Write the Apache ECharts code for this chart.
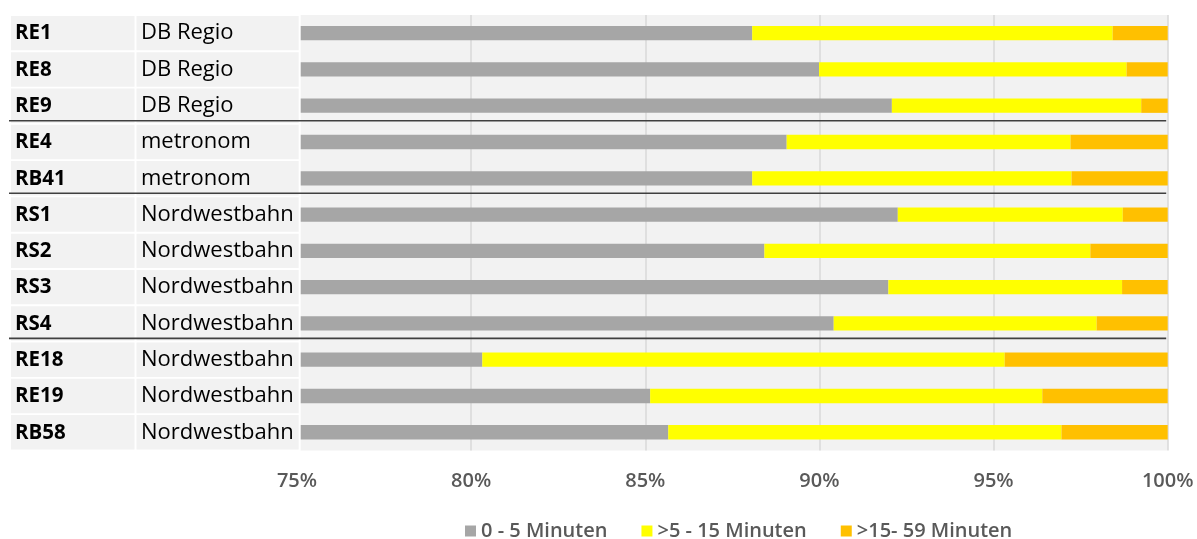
<!DOCTYPE html>
<html>
<head>
<meta charset="utf-8">
<script src="https://cdn.jsdelivr.net/npm/echarts@6/dist/echarts.min.js"></script>
<style>
html,body{margin:0;padding:0;background:#fff;}
#chart{width:1197px;height:539px;}
</style>
</head>
<body>
<div id="chart"></div>
<script>
// ---- data ----
var routes = ['RE1','RE8','RE9','RE4','RB41','RS1','RS2','RS3','RS4','RE18','RE19','RB58'];
var operators = ['DB Regio','DB Regio','DB Regio','metronom','metronom','Nordwestbahn','Nordwestbahn','Nordwestbahn','Nordwestbahn','Nordwestbahn','Nordwestbahn','Nordwestbahn'];
var seriesNames = ['0 - 5 Minuten', '>5 - 15 Minuten', '>15- 59 Minuten'];
var onTime  = [88.07, 89.99, 92.08, 89.06, 88.07, 92.25, 88.42, 91.98, 90.41, 80.32, 85.14, 85.66];
var minor   = [10.35,  8.83,  7.16,  8.15,  9.17,  6.46,  9.36,  6.71,  7.55, 15.00, 11.26, 11.29];
var major   = [ 1.58,  1.18,  0.76,  2.79,  2.76,  1.29,  2.22,  1.31,  2.04,  4.68,  3.60,  3.05];
var groupBreaksAfter = ['RE9','RB41','RS4'];
var xTicks = {min: 75, max: 100, step: 5};

// ---- chart ----
var chart = echarts.init(document.getElementById('chart'), null, {renderer: 'canvas'});
var FONT = '"Open Sans", "Noto Sans", sans-serif';
var gridLeft = 297, gridTop = 15, gridWidth = 870.7, gridHeight = 435.4;

var option = {
  animation: false,
  grid: {
    left: gridLeft, top: gridTop, width: gridWidth, height: gridHeight,
    show: true, backgroundColor: '#F2F2F2', borderWidth: 0
  },
  xAxis: {
    type: 'value', min: xTicks.min, max: xTicks.max, interval: xTicks.step,
    axisLine: {show: false}, axisTick: {show: false},
    splitLine: {show: true, lineStyle: {color: '#D9D9D9', width: 1.5}},
    axisLabel: {formatter: '{value}%', color: '#595959', fontSize: 20, fontWeight: 600, fontFamily: FONT, margin: 21}
  },
  yAxis: {
    type: 'category', data: routes, inverse: true, show: false
  },
  legend: {
    data: seriesNames, left: 465, top: 521, padding: 0,
    itemWidth: 11, itemHeight: 11, itemGap: 34, icon: 'rect',
    textStyle: {color: '#595959', fontSize: 20, fontWeight: 600, fontFamily: FONT, lineHeight: 20}
  },
  series: [
    {name: seriesNames[0], type: 'bar', stack: 'total', data: onTime, barWidth: 14.3, itemStyle: {color: '#A6A6A6'}, clip: true},
    {name: seriesNames[1], type: 'bar', stack: 'total', data: minor, barWidth: 14.3, itemStyle: {color: '#FFFF00'}, clip: true},
    {name: seriesNames[2], type: 'bar', stack: 'total', data: major, barWidth: 14.3, itemStyle: {color: '#FFC000'}, clip: true}
  ]
};
chart.setOption(option);

function buildTable() {
  var els = [];
  var plotRight = chart.convertToPixel({xAxisIndex: 0}, xTicks.max);
  // white strip hiding area left of plot start
  els.push({type: 'rect', z: 100, shape: {x: 0, y: gridTop - 3, width: 300.7, height: gridHeight + 4}, style: {fill: '#fff'}});
  var halfCell = 17.2;
  routes.forEach(function (r, i) {
    var cy = chart.convertToPixel({yAxisIndex: 0}, r);
    els.push({type: 'rect', z: 101, shape: {x: 11, y: cy - halfCell, width: 123.5, height: halfCell * 2}, style: {fill: '#F2F2F2'}});
    els.push({type: 'rect', z: 101, shape: {x: 136.5, y: cy - halfCell, width: 162.2, height: halfCell * 2}, style: {fill: '#F2F2F2'}});
    els.push({type: 'text', z: 102, x: 15, y: cy + 0.5, style: {text: r, fill: '#000', font: 'bold 20.5px ' + FONT, textVerticalAlign: 'middle', verticalAlign: 'middle'}});
    els.push({type: 'text', z: 102, x: 141, y: cy, style: {text: operators[i], fill: '#000', font: '22px ' + FONT, textVerticalAlign: 'middle', verticalAlign: 'middle'}});
    if (groupBreaksAfter.indexOf(r) >= 0) {
      var ly = cy + 15;
      els.push({type: 'line', z: 103, shape: {x1: 9, y1: ly, x2: plotRight - 1.5, y2: ly}, style: {stroke: '#404040', lineWidth: 1.6}});
    }
  });
  chart.setOption({graphic: {elements: els}});
}
buildTable();
</script>
</body>
</html>
